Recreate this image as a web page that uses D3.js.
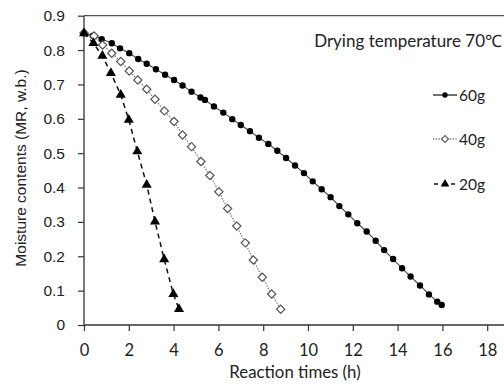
<!DOCTYPE html>
<html><head><meta charset="utf-8">
<script src="https://cdn.jsdelivr.net/npm/d3@7"></script>
<style>
html,body{margin:0;padding:0;background:#fff;}
svg{display:block;}
</style></head>
<body>
<svg id="chart" width="504" height="386"></svg>
<script>
// ---- data ----
const t60 = [0,0.4,0.79,1.24,1.61,2.02,2.42,2.8,3.21,3.62,4.02,4.4,4.8,5.2,5.4,5.8,6.22,6.62,7.0,7.41,7.81,8.23,8.63,9.02,9.42,9.82,10.21,10.61,11.01,11.4,11.8,12.2,12.62,13.02,13.4,13.8,14.2,14.58,15.0,15.4,15.77,15.97];
const mr60 = [0.850,0.842,0.832,0.820,0.805,0.791,0.774,0.760,0.744,0.728,0.713,0.697,0.679,0.662,0.655,0.636,0.618,0.599,0.582,0.564,0.545,0.527,0.507,0.486,0.464,0.442,0.418,0.395,0.372,0.346,0.322,0.296,0.272,0.245,0.218,0.192,0.165,0.141,0.115,0.089,0.068,0.058];
const t40 = [0,0.45,0.83,1.24,1.64,2.02,2.4,2.8,3.17,3.59,4.02,4.4,4.8,5.22,5.62,6.02,6.41,6.82,7.2,7.56,7.96,8.38,8.78];
const mr40 = [0.850,0.841,0.815,0.791,0.767,0.739,0.713,0.686,0.657,0.623,0.592,0.553,0.519,0.476,0.435,0.388,0.339,0.288,0.239,0.189,0.139,0.090,0.046];
const t20 = [0,0.42,0.82,1.2,1.64,2.0,2.38,2.8,3.17,3.58,3.99,4.24];
const mr20 = [0.849,0.820,0.783,0.733,0.670,0.597,0.505,0.408,0.301,0.191,0.090,0.046];
const seriesNames = ["60g","40g","20g"];
const xTicks = [0,2,4,6,8,10,12,14,16,18];
const yTicks = [0,0.1,0.2,0.3,0.4,0.5,0.6,0.7,0.8,0.9];
const yTickLabels = ["0","0.1","0.2","0.3","0.4","0.5","0.6","0.7","0.8","0.9"];
const titleText = "Drying temperature 70\u2103";
const xTitle = "Reaction times (h)";
const yTitle = "Moisture contents (MR, w.b.)";

// ---- layout ----
const svg = d3.select("#chart");
const x = d3.scaleLinear().domain([0,20]).range([84,532]);
const y = d3.scaleLinear().domain([0,0.9]).range([325,15.7]);
const axisColor = "#333";

// top border
svg.append("line").attr("x1",x(0)).attr("x2",504).attr("y1",y(0.9)).attr("y2",y(0.9))
  .attr("stroke","#555").attr("stroke-width",1.2);

// x axis
const gx = svg.append("g").attr("transform",`translate(0,${y(0)})`)
  .call(d3.axisBottom(x).tickValues(xTicks).tickSize(6).tickPadding(13).tickFormat(d3.format("d")));
gx.select(".domain").attr("stroke",axisColor).attr("stroke-width",1.3).attr("d",`M${x(0)},0H504`);
gx.selectAll(".tick line").attr("stroke",axisColor).attr("stroke-width",1.2);
gx.selectAll(".tick text").attr("fill","#222").style("font-family","Lato, 'Open Sans', sans-serif").style("font-size","16.5px");

// y axis
const gy = svg.append("g").attr("transform",`translate(${x(0)},0)`)
  .call(d3.axisLeft(y).tickValues(yTicks).tickSize(6).tickPadding(13).tickFormat((d,i)=>yTickLabels[i]));
gy.select(".domain").attr("stroke",axisColor).attr("stroke-width",1.3).attr("d",`M0,${y(0)}V${y(0.9)}`);
gy.selectAll(".tick line").attr("stroke",axisColor).attr("stroke-width",1.2);
gy.selectAll(".tick text").attr("fill","#222").style("font-family","'Liberation Sans', Arial, sans-serif").style("font-size","15.5px");

// titles
svg.append("text").attr("x",295).attr("y",378).attr("text-anchor","middle")
  .style("font-family","Lato, 'Open Sans', sans-serif").style("font-size","16.8px").attr("fill","#222").text(xTitle);
svg.append("text").attr("transform","translate(26,168) rotate(-90)").attr("text-anchor","middle")
  .style("font-family","'Liberation Sans', Arial, sans-serif").style("font-size","15.5px").attr("fill","#222").text(yTitle);
svg.append("text").attr("x",502).attr("y",47).attr("text-anchor","end")
  .style("font-family","Lato, 'Open Sans', sans-serif").style("font-size","17px").attr("fill","#222").text(titleText);

// series
const data60 = t60.map((t,i)=>({t, v: mr60[i]}));
const data40 = t40.map((t,i)=>({t, v: mr40[i]}));
const data20 = t20.map((t,i)=>({t, v: mr20[i]}));
const line = d3.line().x(d=>x(d.t)).y(d=>y(d.v));

const styles = [
  {data:data60, stroke:"#444", width:1.1, dash:null},
  {data:data40, stroke:"#777", width:1.3, dash:"1.3,1.5"},
  {data:data20, stroke:"#111", width:1.5, dash:"5,4"}
];
styles.slice().reverse().forEach(s=>{
  svg.append("path").datum(s.data).attr("d",line).attr("fill","none")
    .attr("stroke",s.stroke).attr("stroke-width",s.width).attr("stroke-dasharray",s.dash);
});

const circ = d3.symbol().type(d3.symbolCircle).size(32);
const sq = d3.symbol().type(d3.symbolSquare).size(34);
const tri = d3.symbol().type(d3.symbolTriangle).size(44);

svg.append("g").selectAll("path").data(data60).join("path")
  .attr("d",circ).attr("transform",d=>`translate(${x(d.t)},${y(d.v)})`).attr("fill","#000");
svg.append("g").selectAll("path").data(data40).join("path")
  .attr("d",sq).attr("transform",d=>`translate(${x(d.t)},${y(d.v)}) rotate(45)`)
  .attr("fill","#fff").attr("stroke","#555").attr("stroke-width",1.2);
svg.append("g").selectAll("path").data(data20).join("path")
  .attr("d",tri).attr("transform",d=>`translate(${x(d.t)},${y(d.v)})`).attr("fill","#000");

// legend
const legY = [95,139,184];
const lg = svg.append("g");
const legX1 = 433, legX2 = 457, legM = 445;
// 60g
lg.append("line").attr("x1",legX1).attr("x2",legX2).attr("y1",legY[0]).attr("y2",legY[0]).attr("stroke","#222").attr("stroke-width",1.3);
lg.append("path").attr("d",d3.symbol().type(d3.symbolCircle).size(22)).attr("transform",`translate(${legM},${legY[0]})`).attr("fill","#000");
// 40g
lg.append("line").attr("x1",legX1).attr("x2",legX2).attr("y1",legY[1]).attr("y2",legY[1]).attr("stroke","#777").attr("stroke-width",1.3).attr("stroke-dasharray","1.3,1.5");
lg.append("path").attr("d",d3.symbol().type(d3.symbolSquare).size(24)).attr("transform",`translate(${legM},${legY[1]}) rotate(45)`).attr("fill","#fff").attr("stroke","#555").attr("stroke-width",1.1);
// 20g
lg.append("line").attr("x1",legX1+1).attr("x2",legX2).attr("y1",legY[2]).attr("y2",legY[2]).attr("stroke","#111").attr("stroke-width",1.5).attr("stroke-dasharray","4,4.5");
lg.append("path").attr("d",d3.symbol().type(d3.symbolTriangle).size(32)).attr("transform",`translate(${legM},${legY[2]})`).attr("fill","#000");
seriesNames.forEach((n,i)=>{
  lg.append("text").attr("x",459).attr("y",legY[i]+5.5)
    .style("font-family","Lato, 'Open Sans', sans-serif").style("font-size","15.5px").attr("fill","#222").text(n);
});
</script>
</body></html>
